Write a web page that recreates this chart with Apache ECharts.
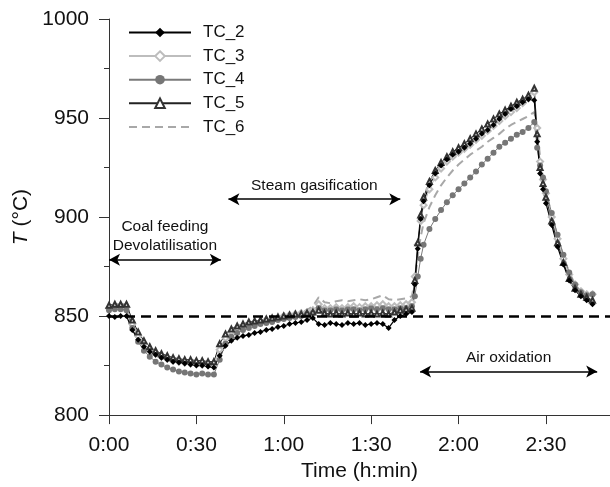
<!DOCTYPE html>
<html>
<head>
<meta charset="utf-8">
<script src="https://cdn.jsdelivr.net/npm/echarts@6/dist/echarts.min.js"></script>
<style>
  html, body { margin: 0; padding: 0; background: #fff; }
  #chart { width: 610px; height: 487px; }
</style>
</head>
<body>
<div id="chart"></div>
<script>
// time in minutes since start
const minutes = [0,2,4,6,8,10,12,14,16,18,20,22,24,26,28,30,32,34,36,38,40,42,44,46,48,50,52,54,56,58,60,62,64,66,68,70,72,74,76,78,80,82,84,86,88,90,92,94,96,98,100,102,104,105,106,107,108,110,112,114,116,118,120,122,124,126,128,130,132,134,136,138,140,142,144,146,147,148,149,150,152,154,156,158,160,162,164,166];

const tc2 = [850,849.5,850,850,843,838,834.5,832,830.5,829,828,827,826.5,826,825.5,825,825,824.5,824,830,835,837.5,839,840,840.5,841.5,842,843,843.5,844.5,845,846,846.5,847,848,849,846,845.5,846.5,846,845.5,846.5,846,846.5,845.5,846,846.5,846,844,848,850,851,852,866,884,899,908,916,922,926,929,931.5,933,935,937,939.5,942,944,946.5,949.5,952,954.5,956,958,959.5,959,938,922,914,907,896,885,876,868,863,860,858,856];
const tc3 = [854,855,855,854.5,846,840,836,833,831,829.5,828.5,827.5,827,826.5,826,826,825.5,825.5,825,833,839,842,843.5,845,845.5,846.5,847,848,848.5,849,850,850.5,851,851.5,852,853,856,854,854,854.5,854,854.5,855,854.5,855,855,855.5,856,855,855,855.5,856,857,870,886,898,906,914,920,924.5,928,930.5,932.5,934.5,936.5,939,941,943.5,946,948.5,951,953,955,957.5,960,963,945,928,919,912,900,889,879,871,866,862.5,861,861];
const tc4 = [853,853.5,853.5,853,844,837,832.5,829.5,827,825.5,824,823,822,821.5,821,820.5,821,820.5,820.5,828,836,839.5,841.5,843,844,845,846,846.5,847,848,848.5,849,849.5,850,851,851.5,854,853,853,853.5,853,853.5,853.5,853,853.5,854,853.5,854,853.5,853.5,854,854,855,860,870,879,886,894,899,903.5,907.5,911,914,917,920,923,926.5,929.5,932.5,935.5,937.5,939.5,941.5,943,945,948,935,926,920,913,902,891,881,872,866,862,860.5,861];
const tc5 = [855.5,856,856,856,848,842,837.5,834.5,832.5,831,830,829,828.5,828,828,827.5,827.5,827,827,836,841,843.5,845,846,847,847.5,848,848.5,849,849.5,850,850.5,851,851,851.5,852,853,851.5,851,851.5,851,851.5,851,851.5,851,851.5,851,851.5,851,852,853,853.5,854,868,887,901,910,918,923.5,927.5,930.5,933,935,937,939.5,942,944.5,947,949.5,952,954,956,958,959.5,961.5,965,942,925,917,910,898,887,877,869,864,861,859.5,858];
const tc6 = [854,855,855,854,846,840,836,833,831,829.5,828.5,827.5,827,826.5,826,826,825.5,825.5,825,832,838,841,843,844.5,845.5,846,847,847.5,848,849,849.5,850,851,852,853,855,859.5,857,856.5,857.5,858,857.5,858,858.5,858,858.5,859.5,860.5,858.5,858,858.5,859,860,868,880,890,897,905,911,916,920,923.5,926.5,929,931.5,933.5,935.5,938,940,942,944.5,946.5,948,949.5,951,953,945,930,920,913,901,890,880,872,866,862.5,861,860];

const xTicks = [0, 30, 60, 90, 120, 150];
const refTemp = 850;

const pair = (vals) => minutes.map((m, i) => [m, vals[i]]);
const font = 'Liberation Sans, Arial, sans-serif';

const chart = echarts.init(document.getElementById('chart'));

const arrowLine = (x0, x1, y, text) => [
    { coord: [x0, y], label: { formatter: text } },
    { coord: [x1, y] },
];

const option = {
    animation: false,
    textStyle: { fontFamily: font },
    grid: { left: 109, right: 0, top: 19, bottom: 68, containLabel: false },
    legend: {
        orient: 'vertical',
        left: 128,
        top: 24,
        padding: 0,
        itemWidth: 62,
        itemHeight: 12,
        itemGap: 6.6,
        data: ['TC_2', 'TC_3', 'TC_4', 'TC_5', { name: 'TC_6', itemStyle: { opacity: 0 } }],
        textStyle: { fontSize: 17, color: '#111', fontFamily: font, padding: [0, 0, 0, 7] },
    },
    xAxis: {
        type: 'value',
        min: 0,
        max: 172,
        interval: 30,
        name: 'Time (h:min)',
        nameLocation: 'middle',
        nameGap: 44,
        nameTextStyle: { fontSize: 21, color: '#111' },
        axisLine: { lineStyle: { color: '#333', width: 1 } },
        axisTick: { length: 9, lineStyle: { color: '#333' } },
        axisLabel: {
            fontSize: 21,
            color: '#111',
            margin: 20,
            showMaxLabel: false,
            formatter: (v) => xTicks.includes(v) ? Math.floor(v / 60) + ':' + String(v % 60).padStart(2, '0') : '',
        },
        splitLine: { show: false },
    },
    yAxis: {
        type: 'value',
        min: 800,
        max: 1000,
        interval: 50,
        name: '{i|T} (°C)',
        nameLocation: 'middle',
        nameGap: 66,
        nameTextStyle: {
            fontSize: 21,
            color: '#111',
            rich: { i: { fontSize: 21, fontStyle: 'italic', color: '#111' } },
        },
        axisLine: { show: true, lineStyle: { color: '#333', width: 1 } },
        axisTick: { show: true, length: 10, lineStyle: { color: '#333' } },
        minorTick: { show: true, splitNumber: 2, length: 5, lineStyle: { color: '#333' } },
        axisLabel: { fontSize: 21, color: '#111', margin: 20, formatter: (v) => String(v) },
        splitLine: { show: false },
    },
    series: [
        {
            name: 'TC_6', type: 'line', data: pair(tc6), symbol: 'none',
            lineStyle: { color: '#a8a8a8', width: 2, type: [8, 5] },
            itemStyle: { color: '#a8a8a8' },
        },
        {
            name: 'TC_3', type: 'line', data: pair(tc3), symbol: 'emptyDiamond', symbolSize: 6, showAllSymbol: true,
            lineStyle: { color: '#bdbdbd', width: 1 },
            itemStyle: { color: '#bdbdbd', borderWidth: 1 },
        },
        {
            name: 'TC_4', type: 'line', data: pair(tc4), symbol: 'circle', symbolSize: 6, showAllSymbol: true,
            lineStyle: { color: '#7a7a7a', width: 1 },
            itemStyle: { color: '#767676' },
        },
        {
            name: 'TC_5', type: 'line', data: pair(tc5), symbol: 'emptyTriangle', symbolSize: 5, showAllSymbol: true,
            lineStyle: { color: '#222', width: 1 },
            itemStyle: { color: '#333', borderWidth: 1 },
            // dashed 850 °C reference line
            markLine: {
                silent: true,
                symbol: ['none', 'none'],
                label: { show: false },
                lineStyle: { type: [10, 6], width: 2.5, color: '#000' },
                data: [{ yAxis: refTemp }],
            },
        },
        {
            name: 'TC_2', type: 'line', data: pair(tc2), symbol: 'diamond', symbolSize: 6, showAllSymbol: true,
            lineStyle: { color: '#000', width: 1.2 },
            itemStyle: { color: '#000' },
            // phase arrows
            markLine: {
                silent: true,
                symbol: ['arrow', 'arrow'],
                symbolSize: [9, 11],
                lineStyle: { color: '#000', width: 1.5, type: 'solid' },
                label: {
                    position: 'insideMiddleTop',
                    distance: 4,
                    fontSize: 15.5,
                    lineHeight: 19,
                    color: '#111',
                    fontFamily: font,
                },
                data: [
                    arrowLine(0, 38.4, 878.5, 'Coal feeding\nDevolatilisation'),
                    arrowLine(41, 100, 909, 'Steam gasification'),
                    arrowLine(106.8, 167.6, 822, 'Air oxidation'),
                ],
            },
        },
    ],
};

chart.setOption(option);
</script>
</body>
</html>
